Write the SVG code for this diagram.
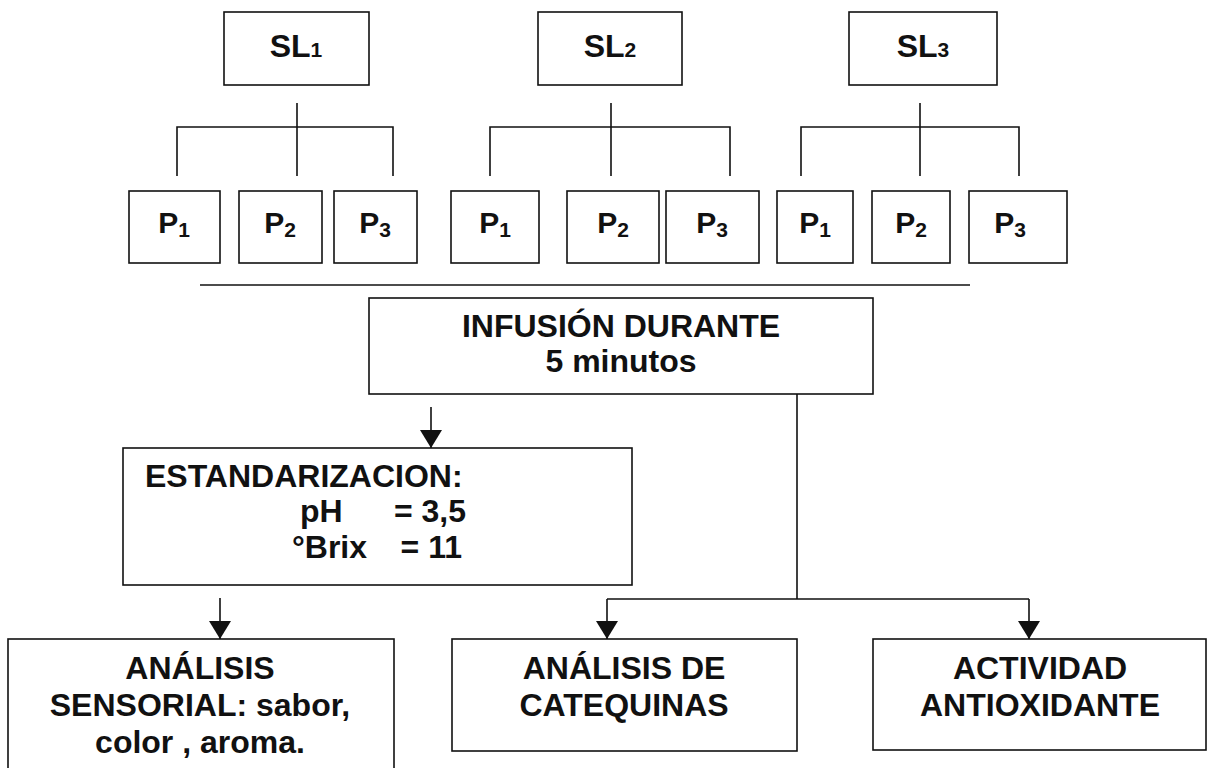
<svg xmlns="http://www.w3.org/2000/svg" width="1213" height="768" viewBox="0 0 1213 768">
  <defs>
    <marker id="arrow" viewBox="0 0 18 22" refX="18" refY="11" markerWidth="18" markerHeight="22" markerUnits="userSpaceOnUse" orient="auto">
      <path d="M0,0 L18,11 L0,22 z" fill="#111"/>
    </marker>
  </defs>
  <style>
    rect { fill: #fff; stroke: #111; stroke-width: 1.6; }
    .c { fill: none; stroke: #111; stroke-width: 1.6; }
    .a { fill: none; stroke: #111; stroke-width: 1.6; marker-end: url(#arrow); }
    text { font-family: "Liberation Sans", Arial, sans-serif; font-weight: bold; fill: #111; }
    .big { font-size: 32px; }
    .end { text-anchor: end; }
    .p { font-size: 30px; text-anchor: middle; }
    .m { font-size: 32px; text-anchor: middle; }
    .sub { font-size: 21px; }
  </style>
  <rect width="1213" height="768" style="fill:#fff;stroke:none"/>

  <!-- connectors -->
  <g id="connectors">
    <!-- SL1 tree -->
    <path class="c" d="M297,103 V176 M177,176 V127 H393 V176"/>
    <!-- SL2 tree -->
    <path class="c" d="M611,103 V176 M490,176 V127 H730 V176"/>
    <!-- SL3 tree -->
    <path class="c" d="M920,103 V176 M801,176 V127 H1019 V176"/>
    <!-- separator -->
    <path class="c" d="M200,285 H970"/>
    <!-- infusion to standardisation -->
    <path class="a" d="M431,407 V448"/>
    <!-- standardisation to sensory analysis -->
    <path class="a" d="M220,598 V639"/>
    <!-- infusion to the two lab analyses -->
    <path class="c" d="M797,387 V599 M607,599 H1029"/>
    <path class="a" d="M607,599 V639"/>
    <path class="a" d="M1029,599 V639"/>
  </g>

  <!-- top level -->
  <g id="sl1"><rect x="224" y="12" width="145" height="73"/><text class="m" x="296" y="57">SL<tspan class="sub">1</tspan></text></g>
  <g id="sl2"><rect x="538" y="12" width="144" height="73"/><text class="m" x="610" y="57">SL<tspan class="sub">2</tspan></text></g>
  <g id="sl3"><rect x="849" y="12" width="148" height="73"/><text class="m" x="923" y="57">SL<tspan class="sub">3</tspan></text></g>

  <!-- second level -->
  <g id="sl1-p1"><rect x="129" y="191" width="91" height="72"/><text class="p" x="174" y="233">P<tspan class="sub" dy="4">1</tspan></text></g>
  <g id="sl1-p2"><rect x="239" y="191" width="83" height="72"/><text class="p" x="280" y="233">P<tspan class="sub" dy="4">2</tspan></text></g>
  <g id="sl1-p3"><rect x="334" y="191" width="83" height="72"/><text class="p" x="375" y="233">P<tspan class="sub" dy="4">3</tspan></text></g>

  <g id="sl2-p1"><rect x="451" y="191" width="88" height="72"/><text class="p" x="495" y="233">P<tspan class="sub" dy="4">1</tspan></text></g>
  <g id="sl2-p2"><rect x="567" y="191" width="92" height="72"/><text class="p" x="613" y="233">P<tspan class="sub" dy="4">2</tspan></text></g>
  <g id="sl2-p3"><rect x="666" y="191" width="93" height="72"/><text class="p" x="712" y="233">P<tspan class="sub" dy="4">3</tspan></text></g>

  <g id="sl3-p1"><rect x="777" y="191" width="76" height="72"/><text class="p" x="815" y="233">P<tspan class="sub" dy="4">1</tspan></text></g>
  <g id="sl3-p2"><rect x="872" y="191" width="78" height="72"/><text class="p" x="911" y="233">P<tspan class="sub" dy="4">2</tspan></text></g>
  <g id="sl3-p3"><rect x="969" y="191" width="98" height="72"/><text class="p" x="1010" y="233">P<tspan class="sub" dy="4">3</tspan></text></g>

  <!-- process -->
  <g id="infusion">
    <rect x="369" y="298" width="504" height="96"/>
    <text class="m" x="621" y="337">INFUSIÓN DURANTE</text>
    <text class="m" x="621" y="372">5 minutos</text>
  </g>

  <g id="estandarizacion">
    <rect x="123" y="448" width="509" height="137"/>
    <text class="big" x="145" y="487">ESTANDARIZACION:</text>
    <text class="big" x="300" y="522">pH</text>
    <text class="big end" x="466" y="522">= 3,5</text>
    <text class="big" x="292" y="558">°Brix</text>
    <text class="big end" x="462" y="558">= 11</text>
  </g>

  <!-- analyses -->
  <g id="analisis-sensorial">
    <rect x="8" y="639" width="386" height="160"/>
    <text class="m" x="200" y="679">ANÁLISIS</text>
    <text class="m" x="200" y="716">SENSORIAL: sabor,</text>
    <text class="m" x="200" y="753">color , aroma.</text>
  </g>
  <g id="analisis-catequinas">
    <rect x="452" y="639" width="345" height="112"/>
    <text class="m" x="624" y="679">ANÁLISIS DE</text>
    <text class="m" x="624" y="716">CATEQUINAS</text>
  </g>
  <g id="actividad-antioxidante">
    <rect x="873" y="639" width="333" height="111"/>
    <text class="m" x="1040" y="679">ACTIVIDAD</text>
    <text class="m" x="1040" y="716">ANTIOXIDANTE</text>
  </g>
</svg>
